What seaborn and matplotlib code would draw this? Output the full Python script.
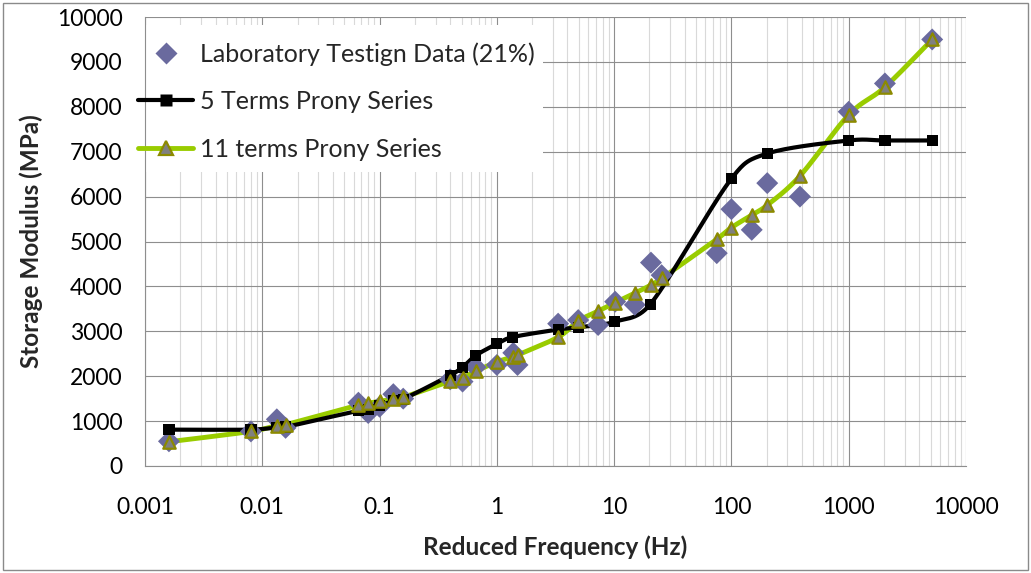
import numpy as np
import pandas as pd
import matplotlib
matplotlib.use("Agg")
import matplotlib.pyplot as plt
import seaborn as sns
from matplotlib.lines import Line2D
from matplotlib.patches import Rectangle
from matplotlib.ticker import FixedLocator, NullFormatter, LogLocator

# Laboratory measurements
lab_freq = [0.0016, 0.008, 0.0133, 0.0158, 0.066, 0.08, 0.1, 0.131, 0.159,
            0.4, 0.51, 0.66, 1.0, 1.38, 1.5, 3.33, 4.94, 7.3, 10.2, 15,
            20.6, 25.4, 75, 100, 149, 202, 384, 1000, 2036, 5150]
lab_modulus = [550, 770, 1040, 850, 1410, 1180, 1320, 1600, 1500,
               1930, 1880, 2200, 2250, 2520, 2250, 3170, 3250, 3140, 3660, 3590,
               4530, 4250, 4740, 5720, 5260, 6300, 6000, 7890, 8520, 9500]

# 5 terms Prony series fit
prony5_freq = [0.0016, 0.008, 0.0133, 0.0158, 0.066, 0.08, 0.1, 0.131, 0.159,
               0.4, 0.51, 0.66, 1.0, 1.36, 3.33, 4.94, 10.0, 20.3,
               100, 202, 1000, 2036, 5150]
prony5_modulus = [810, 810, 860, 870, 1230, 1250, 1340, 1450, 1490,
                  2020, 2200, 2460, 2720, 2870, 3040, 3090, 3210, 3600,
                  6400, 6960, 7250, 7250, 7250]

# 11 terms Prony series fit
prony11_freq = lab_freq
prony11_modulus = [540, 770, 900, 920, 1360, 1400, 1440, 1490, 1530,
                   1890, 1970, 2110, 2320, 2430, 2470, 2870, 3230, 3450, 3640, 3850,
                   4030, 4180, 5050, 5310, 5590, 5810, 6460, 7820, 8440, 9500]

x_ticks = [0.001, 0.01, 0.1, 1, 10, 100, 1000, 10000]
x_tick_labels = ["0.001", "0.01", "0.1", "1", "10", "100", "1000", "10000"]
y_ticks = list(range(0, 10001, 1000))

legend_labels = ["Laboratory Testign Data (21%)", "5 Terms Prony Series", "11 terms Prony Series"]

DIAMOND = "#6A6A9E"
GREEN = "#99CC00"
OLIVE = "#8C8A00"
TRI_FILL = "#808080"
GRID_MAJOR = "#8E8E8E"
GRID_MINOR = "#D9D9D9"

W, H = 1031, 573
AX_LEFT, AX_RIGHT, AX_TOP, AX_BOTTOM = 145, 966, 17, 466
PX_PER_DECADE = (AX_RIGHT - AX_LEFT) / 7.0
PX_PER_UNIT_Y = (AX_BOTTOM - AX_TOP) / 10000.0


def smooth_curve(xs, ys, steps=30):
    """Bezier-smoothed polyline through the points (control arms limited to half a segment)."""
    pts = np.column_stack([np.log10(xs) * PX_PER_DECADE, np.asarray(ys, float) * PX_PER_UNIT_Y])
    n = len(pts)
    arm_out = np.zeros_like(pts)
    arm_in = np.zeros_like(pts)
    for i in range(n):
        prev_p = pts[i - 1] if i > 0 else pts[i]
        next_p = pts[i + 1] if i < n - 1 else pts[i]
        tangent = next_p - prev_p
        tlen = np.hypot(*tangent)
        if tlen == 0:
            continue
        d_prev = np.hypot(*(pts[i] - prev_p))
        d_next = np.hypot(*(next_p - pts[i]))
        f_out = min(1 / 6.0, 0.5 * d_next / tlen)
        f_in = min(1 / 6.0, 0.5 * d_prev / tlen)
        arm_out[i] = tangent * f_out
        arm_in[i] = tangent * f_in
    t = np.linspace(0, 1, steps)[1:, None]
    out = [pts[0]]
    for i in range(n - 1):
        p1, p2 = pts[i], pts[i + 1]
        c1 = p1 + arm_out[i]
        c2 = p2 - arm_in[i + 1]
        seg = ((1 - t) ** 3) * p1 + 3 * ((1 - t) ** 2) * t * c1 + 3 * (1 - t) * (t ** 2) * c2 + (t ** 3) * p2
        out.extend(seg)
    out = np.array(out)
    return pd.DataFrame({"freq": 10 ** (out[:, 0] / PX_PER_DECADE),
                         "modulus": out[:, 1] / PX_PER_UNIT_Y})


sns.set_theme(style="white")
plt.rcParams["font.family"] = ["Lato", "DejaVu Sans"]

fig = plt.figure(figsize=(W / 100, H / 100), dpi=100)
ax = fig.add_axes([AX_LEFT / W, 1 - AX_BOTTOM / H, (AX_RIGHT - AX_LEFT) / W, (AX_BOTTOM - AX_TOP) / H])

lab_df = pd.DataFrame({"freq": lab_freq, "modulus": lab_modulus})
p5_df = pd.DataFrame({"freq": prony5_freq, "modulus": prony5_modulus})
p11_df = pd.DataFrame({"freq": prony11_freq, "modulus": prony11_modulus})

ax.set_xscale("log")

sns.lineplot(data=smooth_curve(prony11_freq, prony11_modulus), x="freq", y="modulus",
             sort=False, estimator=None, color=GREEN, lw=3.5, ax=ax, zorder=3)
sns.lineplot(data=smooth_curve(prony5_freq, prony5_modulus), x="freq", y="modulus",
             sort=False, estimator=None, color="black", lw=3.0, ax=ax, zorder=4)

sns.scatterplot(data=lab_df, x="freq", y="modulus", marker="D", s=125,
                color=DIAMOND, edgecolor="none", ax=ax, zorder=5)
sns.scatterplot(data=p5_df, x="freq", y="modulus", marker="s", s=65,
                color="black", edgecolor="none", ax=ax, zorder=6)
sns.scatterplot(data=p11_df, x="freq", y="modulus", marker="^", s=80,
                color=TRI_FILL, edgecolor=OLIVE, linewidth=1.6, ax=ax, zorder=7)

ax.set_xlim(0.001, 10000)
ax.set_ylim(0, 10000)

ax.xaxis.set_major_locator(FixedLocator(x_ticks))
ax.set_xticklabels(x_tick_labels)
ax.xaxis.set_minor_locator(LogLocator(base=10, subs=np.arange(2, 10), numticks=100))
ax.xaxis.set_minor_formatter(NullFormatter())
ax.set_yticks(y_ticks)
ax.set_yticklabels([str(v) for v in y_ticks])

ax.grid(True, which="major", axis="both", color=GRID_MAJOR, lw=0.8, zorder=1)
ax.grid(True, which="minor", axis="x", color=GRID_MINOR, lw=0.8, zorder=0)
ax.set_axisbelow(True)

for side in ["top", "right"]:
    ax.spines[side].set_visible(False)
for side in ["left", "bottom"]:
    ax.spines[side].set_color(GRID_MAJOR)
    ax.spines[side].set_linewidth(0.8)
    ax.spines[side].set_zorder(9)

ax.tick_params(axis="both", which="major", direction="out", length=6, width=0.8,
               color=GRID_MAJOR, labelsize=16.5, labelcolor="black")
ax.tick_params(axis="y", pad=10)
ax.tick_params(axis="x", pad=16)
ax.tick_params(axis="x", which="minor", length=0)

ax.set_xlabel("Reduced Frequency (Hz)", fontsize=17.5, fontweight="bold", labelpad=13)
ax.set_ylabel("Storage Modulus (MPa)", fontsize=17.5, fontweight="bold", labelpad=10)

# White panel behind the legend entries
ax_w = AX_RIGHT - AX_LEFT
ax_h = AX_BOTTOM - AX_TOP
panel = Rectangle(((137 - AX_LEFT) / ax_w, (AX_BOTTOM - 172) / ax_h),
                  (543 - 137) / ax_w, (172 - 25) / ax_h,
                  transform=ax.transAxes, facecolor="white", edgecolor="none",
                  zorder=8, clip_on=False)
ax.add_patch(panel)

handles = [
    Line2D([], [], ls="none", marker="D", markersize=11, color=DIAMOND, markeredgecolor="none"),
    Line2D([], [], color="black", lw=3.0, marker="s", markersize=8, markeredgecolor="none"),
    Line2D([], [], color=GREEN, lw=3.5, marker="^", markersize=9.5,
           markerfacecolor=TRI_FILL, markeredgecolor=OLIVE, markeredgewidth=1.6),
]
leg = ax.legend(handles, legend_labels, loc="upper left",
                bbox_to_anchor=((138 - AX_LEFT) / ax_w, (AX_BOTTOM - 42) / ax_h),
                borderaxespad=0, borderpad=0, frameon=False, fontsize=18,
                handlelength=2.2, handletextpad=0.28, labelspacing=0.98)
leg.set_zorder(10)

fig.add_artist(Rectangle((3 / W, 3 / H), 1 - 6 / W, 1 - 6 / H, transform=fig.transFigure,
                         fill=False, edgecolor="#8A8A8A", lw=1.0))

fig.savefig("out.png", dpi=100)
